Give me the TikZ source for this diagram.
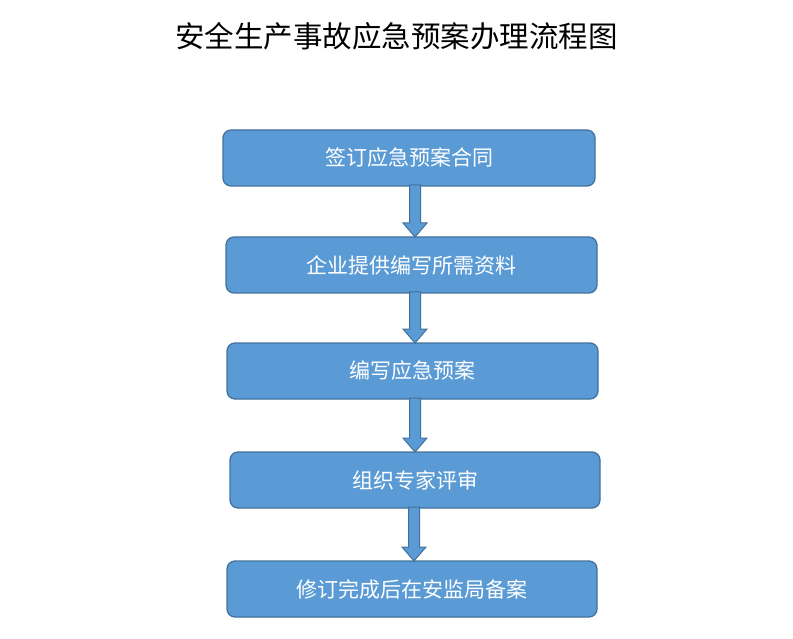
\documentclass[tikz,border=0pt]{standalone}
\usepackage{fontspec}
\setmainfont{Noto Sans CJK SC}
\usepackage{tikz}
\usetikzlibrary{positioning,calc}
\definecolor{boxfill}{RGB}{91,155,213}
\definecolor{boxedge}{RGB}{65,113,156}
\tikzset{
  stepbox/.style={rectangle,rounded corners=8pt,draw=boxedge,line width=1.3pt,fill=boxfill,outer sep=0pt,
    text=white,align=center,font=\fontsize{21}{25}\selectfont,minimum width=371pt,minimum height=56pt},
  blockarr/.style={draw=boxedge,line width=1pt,fill=boxfill,line join=miter},
  titletext/.style={font=\fontsize{29.5}{34}\selectfont,text=black}
}
\begin{document}
\begin{tikzpicture}[x=1pt,y=-1pt]
  \useasboundingbox (0,0) rectangle (793,639);

  \node[titletext] (title) at (396.5,36) {安全生产事故应急预案办理流程图};

  \node[stepbox,minimum width=372pt] (sign) at (409,158) {签订应急预案合同};
  \node[stepbox,below=51pt of sign,xshift=2.5pt] (supply) {企业提供编写所需资料};
  \node[stepbox,below=50pt of supply,xshift=1pt] (write) {编写应急预案};
  \node[stepbox,below=53pt of write,xshift=2.5pt,minimum width=370pt] (review) {组织专家评审};
  \node[stepbox,below=53pt of review,xshift=-3pt,minimum width=370pt] (file) {修订完成后在安监局备案};

  % block arrows between the steps
  \foreach \from/\to/\dx in {sign/supply/6, supply/write/3.5, write/review/2.5, review/file/-1}
    \draw[blockarr] let \p1=($(\from.south)+(\dx,-1)$), \p2=(\to.north) in
      (\x1-5.5pt,\y1) -- (\x1+5.5pt,\y1) -- (\x1+5.5pt,\y2+14pt) -- (\x1+12pt,\y2+14pt)
      -- (\x1,\y2) -- (\x1-12pt,\y2+14pt) -- (\x1-5.5pt,\y2+14pt) -- cycle;
\end{tikzpicture}
\end{document}
